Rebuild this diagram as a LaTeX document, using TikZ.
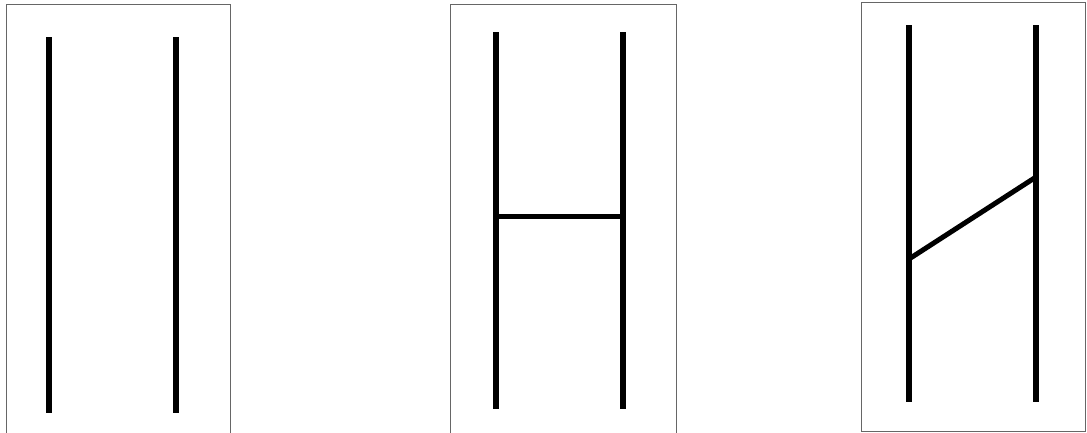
\documentclass[tikz,border=0pt]{standalone}
\begin{document}
\begin{tikzpicture}[x=1pt,y=-1pt,
  frame/.style={draw=black!60,line width=1pt},
  rail/.style={line width=6pt,black},
  rung/.style={line width=5pt,black}]
\useasboundingbox (0,0) rectangle (1087,432);
\clip (0,0) rectangle (1087,432);
% panel 1
\draw[frame] (6,4) rectangle (230,445);
\coordinate (a1) at (48.5,37); \coordinate (a2) at (48.5,413);
\coordinate (b1) at (176,37); \coordinate (b2) at (176,413);
\draw[rail] (a1) -- (a2);
\draw[rail] (b1) -- (b2);
% panel 2
\draw[frame] (450,4) rectangle (676,445);
\coordinate (c1) at (495.5,32); \coordinate (c2) at (495.5,409);
\coordinate (d1) at (622.5,32); \coordinate (d2) at (622.5,409);
\coordinate (cm) at (495.5,216); \coordinate (dm) at (622.5,216);
\draw[rail] (c1) -- (c2);
\draw[rail] (d1) -- (d2);
\draw[rung] (cm) -- (dm);
% panel 3
\draw[frame] (861,2) rectangle (1085,431);
\coordinate (e1) at (909,25); \coordinate (e2) at (909,402);
\coordinate (f1) at (1036,25); \coordinate (f2) at (1036,402);
\coordinate (em) at (909,259); \coordinate (fm) at (1036,177);
\draw[rail] (e1) -- (e2);
\draw[rail] (f1) -- (f2);
\draw[rung] (em) -- (fm);
\end{tikzpicture}
\end{document}
